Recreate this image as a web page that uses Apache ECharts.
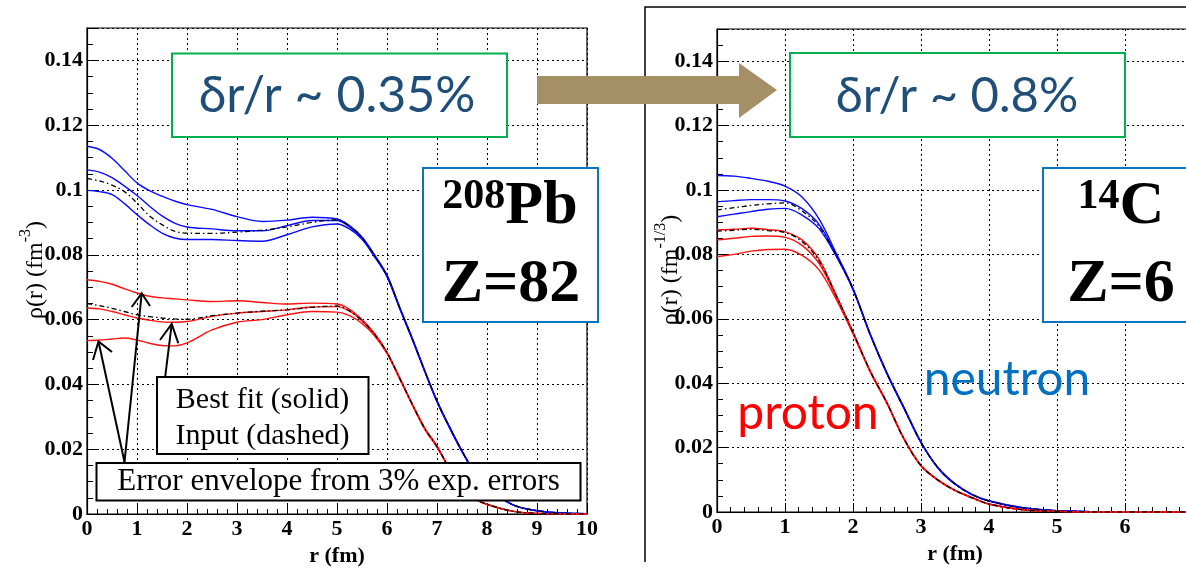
<!DOCTYPE html>
<html><head><meta charset="utf-8">
<script src="https://cdn.jsdelivr.net/npm/echarts@6/dist/echarts.min.js"></script>
<style>html,body{margin:0;padding:0;background:#fff}#c{width:1186px;height:572px}</style>
</head><body><div id="c"></div><script>
// ---- 208Pb panel ----
const pbR = [0,0.25,0.5,0.75,1,1.25,1.5,1.75,2,2.5,3,3.5,4,4.5,5,5.25,5.5,5.75,6,6.25,6.5,6.75,7,7.25,7.5,7.75,8,8.5,9,9.5,10];
const pbNeutronUpper = [0.1135,0.1125,0.1098,0.1060,0.1022,0.0998,0.0981,0.0966,0.0955,0.0940,0.0918,0.0903,0.0907,0.0916,0.0911,0.0890,0.0855,0.0800,0.0738,0.0640,0.0545,0.0445,0.0350,0.0270,0.0195,0.0130,0.0085,0.0030,0.0010,0.0003,0.0001];
const pbNeutronFit   = [0.1062,0.1055,0.1038,0.1012,0.0983,0.0950,0.0920,0.0898,0.0886,0.0880,0.0874,0.0874,0.0890,0.0906,0.0906,0.0886,0.0852,0.0797,0.0735,0.0638,0.0543,0.0443,0.0348,0.0268,0.0194,0.0129,0.0084,0.0030,0.0010,0.0003,0.0001];
const pbNeutronLower = [0.0999,0.0995,0.0986,0.0958,0.0924,0.0893,0.0867,0.0852,0.0847,0.0847,0.0844,0.0842,0.0862,0.0886,0.0895,0.0880,0.0848,0.0794,0.0732,0.0635,0.0540,0.0441,0.0346,0.0266,0.0192,0.0128,0.0083,0.0029,0.0010,0.0003,0.0001];
const pbNeutronInput = [0.1035,0.1028,0.1015,0.0995,0.0960,0.0920,0.0893,0.0873,0.0867,0.0866,0.0870,0.0876,0.0886,0.0900,0.0908,0.0888,0.0853,0.0797,0.0735,0.0638,0.0543,0.0443,0.0348,0.0268,0.0194,0.0129,0.0084,0.0030,0.0010,0.0003,0.0001];
const pbProtonUpper  = [0.0723,0.0718,0.0709,0.0695,0.0682,0.0672,0.0667,0.0664,0.0661,0.0656,0.0658,0.0653,0.0648,0.0651,0.0648,0.0632,0.0600,0.0557,0.0500,0.0422,0.0342,0.0267,0.0210,0.0141,0.0086,0.0049,0.0030,0.0009,0.0002,0.0001,0];
const pbProtonFit    = [0.0636,0.0633,0.0625,0.0615,0.0605,0.0598,0.0593,0.0592,0.0594,0.0610,0.0620,0.0625,0.0630,0.0639,0.0640,0.0626,0.0596,0.0554,0.0498,0.0420,0.0340,0.0265,0.0208,0.0140,0.0085,0.0048,0.0030,0.0009,0.0002,0.0001,0];
const pbProtonLower  = [0.0535,0.0537,0.0540,0.0543,0.0537,0.0527,0.0520,0.0519,0.0528,0.0568,0.0592,0.0600,0.0615,0.0625,0.0623,0.0612,0.0588,0.0550,0.0495,0.0418,0.0338,0.0263,0.0206,0.0139,0.0084,0.0047,0.0029,0.0009,0.0002,0.0001,0];
const pbProtonInput  = [0.0649,0.0643,0.0635,0.0625,0.0615,0.0609,0.0605,0.0602,0.0601,0.0612,0.0620,0.0626,0.0630,0.0638,0.0642,0.0627,0.0597,0.0555,0.0498,0.0420,0.0340,0.0265,0.0208,0.0140,0.0085,0.0048,0.0030,0.0009,0.0002,0.0001,0];

// ---- 14C panel ----
const cR = [0,0.25,0.5,0.75,1,1.25,1.5,1.75,2,2.25,2.5,2.75,3,3.25,3.5,3.75,4,4.5,5,5.5,6,7];
const cNeutronUpper = [0.1045,0.1043,0.1036,0.1027,0.1012,0.0978,0.0910,0.0805,0.0695,0.0555,0.0432,0.0325,0.0218,0.0138,0.0088,0.0055,0.0035,0.0013,0.0004,0.0001,null,null];
const cNeutronFit   = [0.0963,0.0967,0.0970,0.0970,0.0966,0.0942,0.0893,0.0800,0.0692,0.0553,0.0430,0.0323,0.0216,0.0137,0.0087,0.0054,0.0034,0.0013,0.0004,0.0001,null,null];
const cNeutronLower = [0.0917,0.0925,0.0933,0.0940,0.0943,0.0922,0.0880,0.0795,0.0690,0.0551,0.0428,0.0321,0.0215,0.0136,0.0086,0.0054,0.0034,0.0012,0.0004,0.0001,null,null];
const cNeutronInput = [0.0938,0.0945,0.0952,0.0957,0.0960,0.0935,0.0887,0.0798,0.0692,0.0553,0.0430,0.0323,0.0216,0.0137,0.0087,0.0054,0.0034,0.0013,0.0004,0.0001,null,null];
const cProtonUpper  = [0.0876,0.0878,0.0881,0.0877,0.0870,0.0845,0.0785,0.0675,0.0560,0.0440,0.0340,0.0228,0.0145,0.0100,0.0068,0.0045,0.0025,0.0007,0.0002,0,0,0];
const cProtonFit    = [0.0845,0.0850,0.0856,0.0857,0.0853,0.0828,0.0772,0.0670,0.0557,0.0438,0.0338,0.0227,0.0144,0.0099,0.0067,0.0044,0.0025,0.0007,0.0002,0,0,0];
const cProtonLower  = [0.0793,0.0800,0.0810,0.0815,0.0816,0.0797,0.0752,0.0662,0.0553,0.0436,0.0336,0.0226,0.0143,0.0098,0.0066,0.0044,0.0024,0.0007,0.0002,0,0,0];
const cProtonInput  = [0.0872,0.0875,0.0878,0.0874,0.0868,0.0840,0.0780,0.0673,0.0558,0.0439,0.0339,0.0227,0.0144,0.0099,0.0067,0.0044,0.0025,0.0007,0.0002,0,0,0];

// ---- texts ----
const pbPrecision = 'δr/r ~ 0.35%';
const cPrecision = 'δr/r ~ 0.8%';
const pbLegend = ['Best fit (solid)', 'Input (dashed)'];
const pbEnvelope = 'Error envelope from 3% exp. errors';

const SERIF = '"Liberation Serif","DejaVu Serif",serif';
const SANS = 'Lato,"Open Sans",sans-serif';
const BLUE = '#0a0aff', RED = '#ff1010';

const chart = echarts.init(document.getElementById('c'), null, {renderer: 'canvas'});

function pairs(r, v) { return r.map((x, i) => [x, v[i]]); }
function line(name, r, v, idx, color, dashed) {
  return {
    name, type: 'line', xAxisIndex: idx, yAxisIndex: idx,
    data: pairs(r, v), showSymbol: false, smooth: 0.35, connectNulls: false,
    lineStyle: {color, width: dashed ? 1.3 : 1.4, type: dashed ? [5, 3, 1.5, 3] : 'solid'},
    z: 3, silent: true, animation: false
  };
}
function xAxis(idx, max) {
  return {
    type: 'value', gridIndex: idx, min: 0, max, interval: 1,
    name: 'r (fm)', nameLocation: 'middle', nameGap: idx === 0 ? 31 : 30,
    nameTextStyle: {fontFamily: SERIF, fontWeight: 'bold', fontSize: 22, color: '#000'},
    axisLine: {show: true, onZero: false, lineStyle: {color: '#000', width: 1.2}},
    axisTick: {show: true, inside: true, length: 9, lineStyle: {color: '#000', width: 1}},
    minorTick: {show: true, splitNumber: 5, length: 5, lineStyle: {color: '#000', width: 1}},
    axisLabel: {margin: 4, showMaxLabel: idx === 0, fontFamily: SERIF, fontWeight: 'bold', fontSize: 22, color: '#000'},
    splitLine: {show: true, lineStyle: {color: '#000', width: 1, type: [2, 3]}}
  };
}
function yAxis(idx) {
  return {
    type: 'value', gridIndex: idx, min: 0, max: 0.15, interval: 0.02,
    axisLine: {show: true, onZero: false, lineStyle: {color: '#000', width: 1.2}},
    axisTick: {show: true, inside: true, length: 10, lineStyle: {color: '#000', width: 1}},
    minorTick: {show: true, splitNumber: 4, length: 6, lineStyle: {color: '#000', width: 1}},
    axisLabel: {margin: 4, showMaxLabel: false, fontFamily: SERIF, fontWeight: 'bold', fontSize: 22, color: '#000',
      formatter: v => v === 0 ? '0' : String(+v.toFixed(3))},
    splitLine: {show: true, lineStyle: {color: '#000', width: 1, type: [2, 3]}}
  };
}

const Z = 50;
function rect(x, y, w, h, stroke, lw) {
  return {type: 'rect', z: Z, shape: {x, y, width: w, height: h},
    style: {fill: '#fff', stroke, lineWidth: lw}};
}
function txt(x, y, text, font, opts) {
  return Object.assign({type: 'text', z: Z + 1, x, y,
    style: Object.assign({text, align: 'center', verticalAlign: 'middle'}, font)}, opts || {});
}
function arrowLine(tail, tip, b1, b2) {
  return [
    {type: 'line', z: Z + 2, shape: {x1: tail[0], y1: tail[1], x2: tip[0], y2: tip[1]}, style: {stroke: '#000', lineWidth: 2}},
    {type: 'polyline', z: Z + 2, shape: {points: [b1, tip, b2]}, style: {stroke: '#000', lineWidth: 2, fill: null}}
  ];
}
const axisTitleRich = {
  a: {fontFamily: SERIF, fontSize: 24, verticalAlign: 'bottom', lineHeight: 30},
  s: {fontFamily: SERIF, fontSize: 16, verticalAlign: 'top', lineHeight: 30}
};

const graphics = [
  // frame of the right picture
  {type: 'polyline', z: Z, shape: {points: [[645, 562], [645, 7], [1186, 7]]}, style: {stroke: '#000', lineWidth: 1.5, fill: null}},
  // big arrow
  {type: 'polygon', z: Z, shape: {points: [[537, 76], [739, 76], [739, 63], [777, 90], [739, 118], [739, 104], [537, 104]]},
    style: {fill: '#a48f66'}},
  // precision boxes
  rect(172, 53.5, 335, 83.5, '#00b050', 2),
  txt(337, 96, pbPrecision, {fontFamily: SANS, fontSize: 50, fill: '#1f4e79'}),
  rect(790, 53, 335, 84, '#00b050', 2),
  txt(957, 96, cPrecision, {fontFamily: SANS, fontSize: 49, fill: '#1f4e79'}),
  // nucleus boxes
  rect(423, 168, 175, 154, '#0a74c4', 2),
  txt(510, 207, '{s|208}{b|Pb}', {rich: {
      s: {fontFamily: SERIF, fontWeight: 'bold', fontSize: 42, verticalAlign: 'top', lineHeight: 62},
      b: {fontFamily: SERIF, fontWeight: 'bold', fontSize: 62, verticalAlign: 'bottom', lineHeight: 62}}}),
  txt(511, 285, 'Z=82', {fontFamily: SERIF, fontWeight: 'bold', fontSize: 62, fill: '#000'}),
  rect(1043, 168, 170, 154, '#0a74c4', 2),
  txt(1121, 207, '{s|14}{b|C}', {rich: {
      s: {fontFamily: SERIF, fontWeight: 'bold', fontSize: 42, verticalAlign: 'top', lineHeight: 62},
      b: {fontFamily: SERIF, fontWeight: 'bold', fontSize: 62, verticalAlign: 'bottom', lineHeight: 62}}}),
  txt(1121, 285, 'Z=6', {fontFamily: SERIF, fontWeight: 'bold', fontSize: 62, fill: '#000'}),
  // legend boxes
  rect(157, 377, 211.5, 77, '#000', 2),
  txt(262.5, 400, pbLegend[0], {fontFamily: SERIF, fontSize: 30, fill: '#000'}),
  txt(262.5, 436, pbLegend[1], {fontFamily: SERIF, fontSize: 30, fill: '#000'}),
  rect(96.5, 463, 484, 37.5, '#000', 2),
  txt(338.5, 482, pbEnvelope, {fontFamily: SERIF, fontSize: 31, fill: '#000'}),
  // pointer arrows
  ...arrowLine([124.5, 462], [98.5, 341.5], [93, 360], [112, 352]),
  ...arrowLine([124.5, 462], [141.7, 293.3], [131.7, 307], [150, 306]),
  ...arrowLine([165.3, 376], [171.7, 324], [160, 340], [178.3, 343.3]),
  // species labels
  txt(1007, 380, 'neutron', {fontFamily: SANS, fontSize: 48, fill: '#0070c0'}),
  txt(808, 414, 'proton', {fontFamily: SANS, fontSize: 48, fill: '#ff0000'}),
  // y axis titles
  txt(33, 270, '{a|ρ(r) (fm}{s|-3}{a|)}', {rich: axisTitleRich}, {rotation: Math.PI / 2}),
  txt(668, 270, '{a|ρ(r) (fm}{s|-1/3}{a|)}', {rich: axisTitleRich}, {rotation: Math.PI / 2})
];

chart.setOption({
  animation: false,
  backgroundColor: '#fff',
  grid: [
    {left: 87, top: 28, width: 500, height: 486, outerBoundsMode: 'none', show: true, borderColor: '#000', borderWidth: 1.2, backgroundColor: 'transparent'},
    {left: 717, top: 29, width: 476, height: 483, outerBoundsMode: 'none', show: true, borderColor: '#000', borderWidth: 1.2, backgroundColor: 'transparent'}
  ],
  xAxis: [xAxis(0, 10), xAxis(1, 7)],
  yAxis: [yAxis(0), yAxis(1)],
  series: [
    line('Pb n upper', pbR, pbNeutronUpper, 0, BLUE),
    line('Pb n fit', pbR, pbNeutronFit, 0, BLUE),
    line('Pb n lower', pbR, pbNeutronLower, 0, BLUE),
    line('Pb n input', pbR, pbNeutronInput, 0, '#000', true),
    line('Pb p upper', pbR, pbProtonUpper, 0, RED),
    line('Pb p fit', pbR, pbProtonFit, 0, RED),
    line('Pb p lower', pbR, pbProtonLower, 0, RED),
    line('Pb p input', pbR, pbProtonInput, 0, '#000', true),
    line('C n upper', cR, cNeutronUpper, 1, BLUE),
    line('C n fit', cR, cNeutronFit, 1, BLUE),
    line('C n lower', cR, cNeutronLower, 1, BLUE),
    line('C n input', cR, cNeutronInput, 1, '#000', true),
    line('C p upper', cR, cProtonUpper, 1, RED),
    line('C p fit', cR, cProtonFit, 1, RED),
    line('C p lower', cR, cProtonLower, 1, RED),
    line('C p input', cR, cProtonInput, 1, '#000', true)
  ],
  graphic: graphics
});
</script></body></html>
